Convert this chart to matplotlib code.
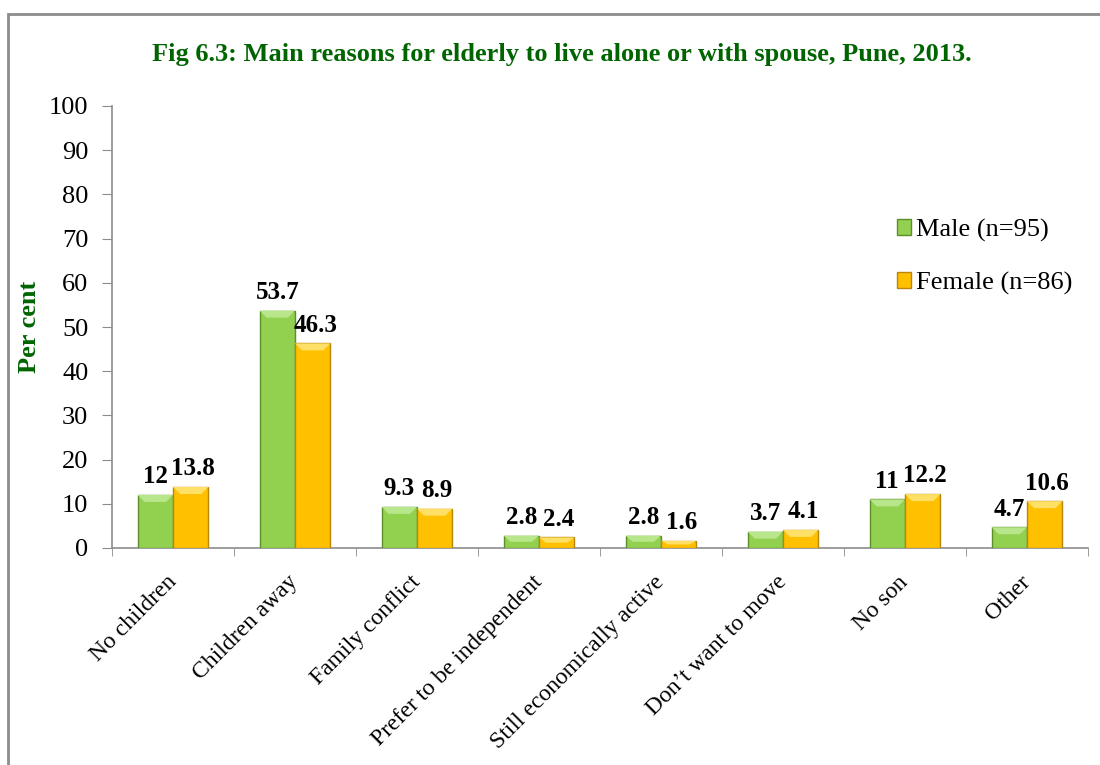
import matplotlib
matplotlib.use("Agg")
import matplotlib.pyplot as plt
import matplotlib.transforms as mtransforms
import numpy as np
from matplotlib.patches import Rectangle, Polygon

categories = ["No children", "Children away", "Family conflict", "Prefer to be independent",
              "Still economically active", "Don\u2019t want to move", "No son", "Other"]
male = [12, 53.7, 9.3, 2.8, 2.8, 3.7, 11, 4.7]
female = [13.8, 46.3, 8.9, 2.4, 1.6, 4.1, 12.2, 10.6]
male_lbl = ["12", "53.7", "9.3", "2.8", "2.8", "3.7", "11", "4.7"]
female_lbl = ["13.8", "46.3", "8.9", "2.4", "1.6", "4.1", "12.2", "10.6"]
yticks = [0, 10, 20, 30, 40, 50, 60, 70, 80, 90, 100]

plt.rcParams['font.family'] = ['Liberation Serif', 'DejaVu Serif']

fig = plt.figure(figsize=(11, 7.65), dpi=100)
ax = fig.add_axes([112/1100, 1-548/765, 976/1100, 442/765])

# outer frame
fig.patches.append(Rectangle((8/1100, -0.1), 1.2, 1-14/765+0.1, transform=fig.transFigure,
                             fill=False, edgecolor='#8c8c8c', linewidth=2))

x = np.arange(len(categories))
w = 0.29
mb = ax.bar(x - w/2, male, w, color='#92D050', edgecolor='#5E8E2A', linewidth=1, label='Male (n=95)', zorder=3)
fb = ax.bar(x + w/2, female, w, color='#FFC000', edgecolor='#B8860B', linewidth=1, label='Female (n=86)', zorder=3)

ax.set_xlim(-0.5, len(categories) - 0.5)
ax.set_ylim(0, 100)

# top bevel highlight on each bar
bev_y = 100 * 7 / 442
bev_x = 7 / 976 * len(categories)
for bars, hc in ((mb, '#B8E68A'), (fb, '#FFE066')):
    for r in bars:
        x0, y0, bw, bh = r.get_x(), r.get_y(), r.get_width(), r.get_height()
        d = min(bev_y, bh / 2)
        dx = min(bev_x, bw / 2)
        ax.add_patch(Polygon([(x0, y0 + bh), (x0 + bw, y0 + bh), (x0 + bw - dx, y0 + bh - d),
                              (x0 + dx, y0 + bh - d)], closed=True, facecolor=hc,
                             edgecolor='none', zorder=4))

for i in range(len(categories)):
    ax.text(x[i] - w/2, male[i] + 1.5, male_lbl[i], ha='center', va='bottom',
            fontsize=18, fontweight='bold', zorder=5)
    ax.text(x[i] + w/2 + 0.02, female[i] + 1.5, female_lbl[i], ha='center', va='bottom',
            fontsize=18, fontweight='bold', zorder=5)

ax.set_yticks(yticks)
ax.set_yticklabels([str(v) for v in yticks], fontsize=19)
ax.set_xticks(x)
ax.set_xticklabels([])
offset = mtransforms.ScaledTranslation(0/100, -31/100, fig.dpi_scale_trans)
trans = ax.get_xaxis_transform() + offset
for i, c in enumerate(categories):
    ax.text(x[i], 0, c, transform=trans, rotation=45, ha='right', va='center',
            rotation_mode='anchor', fontsize=17, clip_on=False)
ax.set_xticks(np.arange(-0.5, len(categories), 1), minor=True)
ax.tick_params(axis='x', which='major', length=0)
ax.tick_params(axis='x', which='minor', length=6, color='#8c8c8c', direction='out')
ax.tick_params(axis='y', length=7, color='#8c8c8c', direction='out', pad=10)

for s in ['top', 'right']:
    ax.spines[s].set_visible(False)
for s in ['left', 'bottom']:
    ax.spines[s].set_color('#8c8c8c')
    ax.spines[s].set_linewidth(1.2)

ax.set_ylabel('Per cent', fontsize=19, fontweight='bold', color='#006400', labelpad=6)

fig.text(562/1100, 1-54/765, 'Fig 6.3: Main reasons for elderly to live alone or with spouse, Pune, 2013.',
         ha='center', va='center', fontsize=19, fontweight='bold', color='#006400')

leg = ax.legend(loc='upper left', bbox_to_anchor=(774/976, 1-(208-106)/442), frameon=False,
                fontsize=19, handlelength=0.55, handleheight=0.55, handletextpad=0.2,
                labelspacing=1.15, borderaxespad=0)

fig.savefig('out.png', dpi=100)
